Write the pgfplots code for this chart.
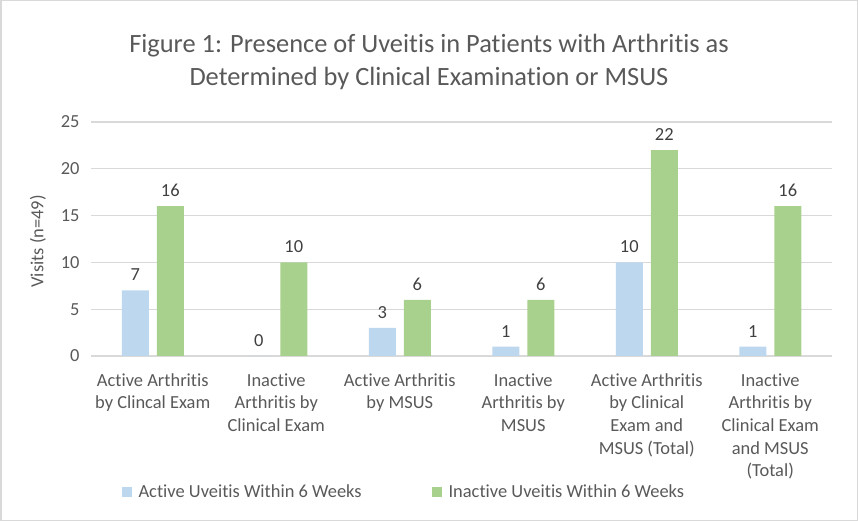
\documentclass[border=0pt]{standalone}
\usepackage{fontspec}
\setmainfont{Carlito}[Ligatures=NoCommon]
\usepackage{pgfplots}
\pgfplotsset{compat=1.18}
\definecolor{actblue}{HTML}{BDD7EE}
\definecolor{inagreen}{HTML}{A9D18E}
\definecolor{txtgray}{HTML}{595959}
\definecolor{lblgray}{HTML}{404040}
\definecolor{gridgray}{HTML}{D9D9D9}
\begin{document}
\begin{tikzpicture}
\useasboundingbox (0,0) rectangle (858bp,521bp);
\draw[gridgray, line width=1.5bp] (0.75bp,0.75bp) rectangle (857.25bp,520.25bp);
\node[txtgray, align=center, font=\fontsize{26.5}{32.5}\selectfont] at (429bp,459bp)
  {Figure 1: Presence of Uveitis in Patients with Arthritis as\\Determined by Clinical Examination or MSUS};
\begin{axis}[
  at={(91bp,165bp)}, anchor=south west,
  scale only axis, width=741bp, height=234bp,
  ybar=8bp, bar width=27bp,
  xmin=-0.5, xmax=5.5, ymin=0, ymax=25,
  ytick={0,5,...,25},
  xtick=data,
  xticklabels={{Active Arthritis\\by Clincal Exam},
               {Inactive\\Arthritis by\\Clinical Exam},
               {Active Arthritis\\by MSUS},
               {Inactive\\Arthritis by\\MSUS},
               {Active Arthritis\\by Clinical\\Exam and\\MSUS (Total)},
               {Inactive\\Arthritis by\\Clinical Exam\\and MSUS\\(Total)}},
  xticklabel style={align=center, text=txtgray, font=\fontsize{18.5}{22.7}\selectfont, yshift=-14bp},
  yticklabel style={text=txtgray, font=\fontsize{18.5}{22}\selectfont, xshift=-8bp},
  /pgf/number format/assume math mode=true,
  major tick length=0pt,
  axis line style={draw=none},
  axis x line*=bottom,
  ymajorgrids, grid style={gridgray, line width=1.2bp},
  extra y ticks={0}, extra y tick labels={},
  extra y tick style={grid style={gridgray, line width=1.5bp}},
  ylabel={Visits (n=49)},
  ylabel style={at={(axis description cs:-0.0715,0.49)}, anchor=center, text=txtgray, font=\fontsize{18.5}{22}\selectfont},
  nodes near coords,
  every node near coord/.append style={text=lblgray, font=\fontsize{18.5}{22}\selectfont, yshift=6bp},
  legend columns=2,
  legend style={at={(axis description cs:0.041,-0.581)}, anchor=west, draw=none, fill=none,
    inner xsep=0pt, font=\fontsize{18.5}{22}\selectfont, text=txtgray,
    /tikz/every odd column/.append style={column sep=5bp},
    /tikz/every even column/.append style={column sep=68bp}},
  legend image code/.code={\fill[#1] (0bp,-5bp) rectangle (10bp,5bp);},
]
\addplot[fill=actblue, draw=none] coordinates {(0,7) (1,0) (2,3) (3,1) (4,10) (5,1)};
\addplot[fill=inagreen, draw=none] coordinates {(0,16) (1,10) (2,6) (3,6) (4,22) (5,16)};
\legend{Active Uveitis Within 6 Weeks, Inactive Uveitis Within 6 Weeks}
\end{axis}
\end{tikzpicture}
\end{document}
